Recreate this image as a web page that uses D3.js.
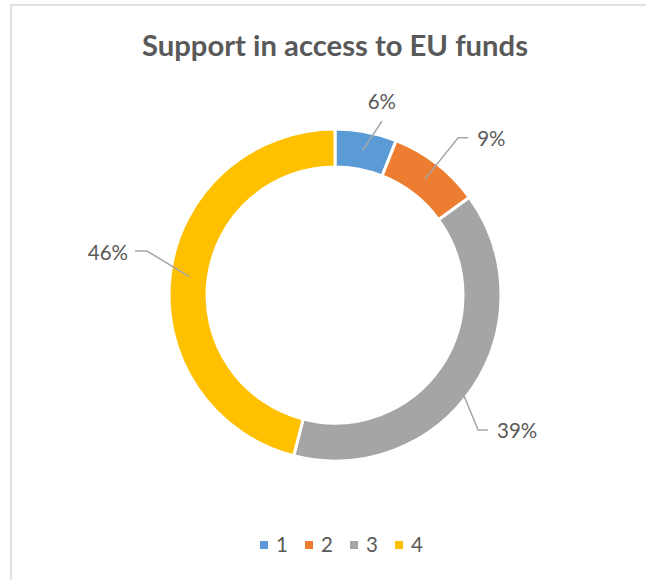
<!DOCTYPE html>
<html>
<head>
<meta charset="utf-8">
<script src="https://cdn.jsdelivr.net/npm/d3@7"></script>
<style>
  html, body { margin: 0; padding: 0; background: #ffffff; }
  svg { display: block; }
</style>
</head>
<body>
<svg id="chart" width="646" height="580"></svg>
<script>
// Share of answers per rating (1–4)
const categories = ["1", "2", "3", "4"];
const values = [6, 9, 39, 46];
const colors = ["#5B9BD5", "#ED7D31", "#A5A5A5", "#FFC000"];
const title = "Support in access to EU funds";

// Label placement around the ring: polar angle (deg, clockwise from top),
// radius from centre, and which side of the anchor the text sits on.
const labelLayout = [
  { ang: 15.1, r: 180, side: "top" },
  { ang: 42.1, r: 212, side: "right" },
  { ang: 129.8, r: 211, side: "right" },
  { ang: 282, r: 211.6, side: "left" }
];

const W = 646, H = 580;
const cx = 335, cy = 295;
const outerR = 166, innerR = 128;
const textColor = "#595959";
const font = "Lato, 'Open Sans', sans-serif";

const svg = d3.select("#chart");

// chart frame (runs off the right and bottom edges)
svg.append("rect")
  .attr("x", 11).attr("y", 5)
  .attr("width", W + 20).attr("height", H + 20)
  .attr("fill", "#ffffff")
  .attr("stroke", "#D9D9D9")
  .attr("stroke-width", 1.5);

// title
svg.append("text")
  .attr("x", cx).attr("y", 56)
  .attr("text-anchor", "middle")
  .attr("font-family", font)
  .attr("font-weight", 700)
  .attr("font-size", 29)
  .attr("fill", textColor)
  .attr("textLength", 386)
  .attr("lengthAdjust", "spacingAndGlyphs")
  .text(title);

const data = categories.map((c, i) => ({ cat: c, value: values[i], color: colors[i], i }));

const pie = d3.pie().sort(null).value(d => d.value);
const arcs = pie(data);

const arc = d3.arc().innerRadius(innerR).outerRadius(outerR);
const midArc = d3.arc().innerRadius((innerR + outerR) / 2).outerRadius((innerR + outerR) / 2);

const g = svg.append("g").attr("transform", `translate(${cx},${cy})`);

g.selectAll("path.slice")
  .data(arcs)
  .join("path")
  .attr("class", "slice")
  .attr("d", arc)
  .attr("fill", d => d.data.color)
  .attr("stroke", "#ffffff")
  .attr("stroke-width", 3)
  .attr("stroke-linejoin", "miter");

const fmt = d3.format(".0%");
const total = d3.sum(values);
const rad = a => a * Math.PI / 180;
const polar = (a, r) => [r * Math.sin(rad(a)), -r * Math.cos(rad(a))];

// data labels with leader lines
arcs.forEach((d, i) => {
  const L = labelLayout[i];
  const [ax, ay] = polar(L.ang, L.r);
  const start = midArc.centroid(d);
  const label = fmt(d.data.value / total);
  let pts, tx, ty, anchor;
  if (L.side === "top") {
    pts = [start, [ax, ay]];
    tx = ax; ty = ay - 12; anchor = "middle";
  } else if (L.side === "right") {
    const end = [ax - 9, ay];
    pts = [start, [end[0] - 10, end[1]], end];
    tx = ax; ty = ay + 8; anchor = "start";
  } else {
    const end = [ax + 7, ay];
    pts = [start, [end[0] + 12, end[1]], end];
    tx = ax; ty = ay + 9; anchor = "end";
  }
  g.append("path")
    .attr("d", d3.line()(pts))
    .attr("fill", "none")
    .attr("stroke", "#A6A6A6")
    .attr("stroke-width", 1.5);
  g.append("text")
    .attr("x", tx).attr("y", ty)
    .attr("text-anchor", anchor)
    .attr("font-family", font)
    .attr("font-size", 20.5)
    .attr("fill", textColor)
    .text(label);
});

// legend
const legendStep = 45, legendY = 545;
const legendX = d3.scalePoint().domain(categories).range([0, legendStep * (categories.length - 1)]);
const legendWidth = legendStep * (categories.length - 1) + 16 + 11;
const legend = svg.append("g").attr("transform", `translate(${341 - legendWidth / 2},${legendY})`);
const items = legend.selectAll("g").data(data).join("g")
  .attr("transform", d => `translate(${legendX(d.cat)},0)`);
items.append("rect")
  .attr("x", 0).attr("y", -4).attr("width", 8).attr("height", 8)
  .attr("fill", d => d.color);
items.append("text")
  .attr("x", 16).attr("y", 7)
  .attr("font-family", font)
  .attr("font-size", 20.5)
  .attr("fill", textColor)
  .text(d => d.cat);
</script>
</body>
</html>
